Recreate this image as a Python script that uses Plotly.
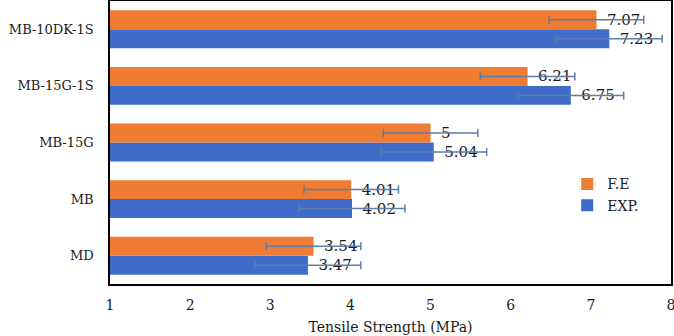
import plotly.graph_objects as go

categories = ["MD", "MB", "MB-15G", "MB-15G-1S", "MB-10DK-1S"]
fe_values = [3.54, 4.01, 5, 6.21, 7.07]
exp_values = [3.47, 4.02, 5.04, 6.75, 7.23]
fe_err = [0.59, 0.59, 0.59, 0.59, 0.59]
exp_err = [0.66, 0.66, 0.66, 0.66, 0.66]
x_ticks = [1, 2, 3, 4, 5, 6, 7, 8]

font_family = "DejaVu Serif"
err_color = "#5D7EA8"
txt_color = "#1a1a1a"

fig = go.Figure()
fig.add_trace(go.Bar(
    y=categories, x=exp_values, base=0, orientation="h", name="EXP.",
    legendgroup="exp",
    marker=dict(color="#3E6CC8", line=dict(width=0)),
    error_x=dict(type="data", array=exp_err, color=err_color, thickness=1.5, width=4),
    text=["\u2002" + str(v) for v in exp_values], textposition="outside",
    textfont=dict(family=font_family, size=15, color=txt_color),
    cliponaxis=False,
))
fig.add_trace(go.Bar(
    y=categories, x=fe_values, base=0, orientation="h", name="F.E",
    legendgroup="fe",
    marker=dict(color="#F07B33", line=dict(width=0)),
    error_x=dict(type="data", array=fe_err, color=err_color, thickness=1.5, width=4),
    text=["\u2002" + str(v) for v in fe_values], textposition="outside",
    textfont=dict(family=font_family, size=15, color=txt_color),
    cliponaxis=False,
))

fig.update_layout(
    width=674, height=336,
    margin=dict(l=110, r=3, t=1, b=52, autoexpand=False),
    paper_bgcolor="white", plot_bgcolor="white",
    barmode="group", bargap=0.33, bargroupgap=0,
    font=dict(family=font_family, size=14, color=txt_color),
    showlegend=True,
    legend=dict(
        x=0.815, y=0.315, xanchor="left", yanchor="middle",
        traceorder="reversed", bgcolor="rgba(0,0,0,0)",
        font=dict(family=font_family, size=14, color=txt_color),
        itemwidth=30, tracegroupgap=14,
    ),
    xaxis=dict(
        range=[1, 8], tickvals=x_ticks, showgrid=False, zeroline=False,
        showline=True, linecolor="black", linewidth=1.5, mirror=True,
        ticks="", ticklabelstandoff=7, ticklabeloverflow="allow",
        automargin=False,
        tickfont=dict(family=font_family, size=14, color=txt_color),
        title=dict(text="Tensile Strength (MPa)", standoff=11,
                   font=dict(family=font_family, size=14, color=txt_color)),
    ),
    yaxis=dict(
        showgrid=False, zeroline=False,
        showline=True, linecolor="black", linewidth=1.5, mirror=True,
        ticks="", ticklabelstandoff=12, automargin=False,
        tickfont=dict(family=font_family, size=13, color=txt_color),
        range=[-0.5, 4.5],
    ),
)

fig.write_html("out.html")
